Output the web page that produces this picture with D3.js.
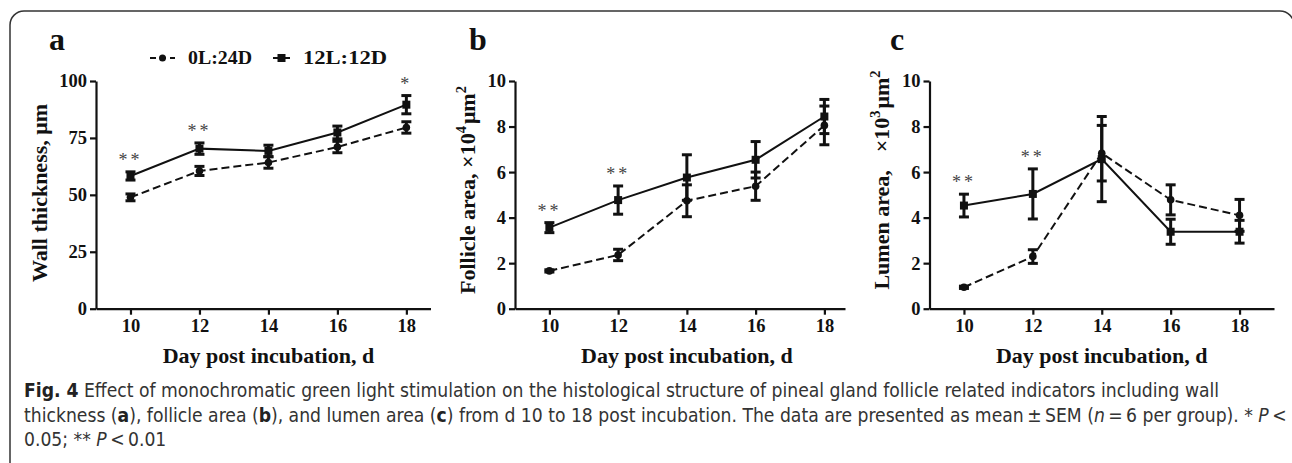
<!DOCTYPE html>
<html>
<head>
<meta charset="UTF-8">
<title>Fig. 4</title>
<script src="https://d3js.org/d3.v7.min.js"></script>
<style>
    body { margin: 0; background: #fff; }
    .axis path, .axis line { stroke: #111; stroke-width: 2.2; }
    .axis text { font-family: "Liberation Serif", "Times New Roman", serif; font-weight: bold; font-size: 18.5px; fill: #111; }
    .chartText { font-family: "Liberation Serif", "Times New Roman", serif; font-weight: bold; fill: #111; }
    .caption { font-family: "Liberation Sans Narrow", "DejaVu Sans Condensed", "Open Sans", sans-serif; font-size: 20px; fill: #333; }
</style>
</head>
<body>
<svg id="fig" width="1292" height="463"></svg>
<script>
    // --- data
    const days = [10, 12, 14, 16, 18];
    const xTicks = [10, 12, 14, 16, 18];

    // a: wall thickness, um
    const wallDark = [48.9, 60.5, 64.2, 71.0, 79.6];
    const wallDarkSem = [1.5, 2.0, 2.5, 2.5, 2.5];
    const wallLight = [58.3, 70.3, 69.3, 77.4, 89.6];
    const wallLightSem = [1.8, 2.5, 2.5, 2.8, 4.0];
    const wallTicks = [0, 25, 50, 75, 100];
    const wallStars = ["**", "**", "", "", "*"];

    // b: follicle area, x10^4 um^2
    const follDark = [1.66, 2.36, 4.74, 5.38, 8.05];
    const follDarkSem = [0.05, 0.25, 0.7, 0.62, 0.85];
    const follLight = [3.56, 4.77, 5.76, 6.54, 8.44];
    const follLightSem = [0.22, 0.62, 1.0, 0.8, 0.75];
    const areaTicks = [0, 2, 4, 6, 8, 10];
    const follStars = ["**", "**", "", "", ""];

    // c: lumen area, x10^3 um^2
    const lumDark = [0.94, 2.29, 6.83, 4.78, 4.1];
    const lumDarkSem = [0.05, 0.3, 1.22, 0.66, 0.7];
    const lumLight = [4.53, 5.04, 6.57, 3.38, 3.38];
    const lumLightSem = [0.5, 1.1, 1.87, 0.55, 0.5];
    const lumStars = ["**", "**", "", "", ""];

    const seriesNames = ["0L:24D", "12L:12D"];

    const captionLines = [
        [["Fig. 4", "b"], [" Effect of monochromatic green light stimulation on the histological structure of pineal gland follicle related indicators including wall", ""]],
        [["thickness (", ""], ["a", "b"], ["), follicle area (", ""], ["b", "b"], ["), and lumen area (", ""], ["c", "b"],
         [") from d 10 to 18 post incubation. The data are presented as mean\u2009\u00b1\u2009SEM (", ""], ["n", "i"], ["\u2009=\u20096 per group). * ", ""], ["P", "i"], ["\u2009<", ""]],
        [["0.05; ** ", ""], ["P", "i"], ["\u2009<\u20090.01", ""]]
    ];

    const svg = d3.select("svg#fig");

    // frame
    svg.append("rect")
        .attr("x", 10).attr("y", 11)
        .attr("width", 1284).attr("height", 470)
        .attr("rx", 14)
        .attr("fill", "none").attr("stroke", "#333").attr("stroke-width", 1.5);

    const panels = [
        { letter: "a", lx: 49, x0: 96, x1: 430.5, xMax: 18.7, yMax: 100, ticks: wallTicks,
          dark: wallDark, darkSem: wallDarkSem, light: wallLight, lightSem: wallLightSem, stars: wallStars,
          titleX: 47, titleY: 193, title: [["Wall thickness, \u03bcm", 0]] },
        { letter: "b", lx: 469, x0: 515, x1: 845, xMax: 18.6, yMax: 10, ticks: areaTicks,
          dark: follDark, darkSem: follDarkSem, light: follLight, lightSem: follLightSem, stars: follStars,
          titleX: 475, titleY: 190, title: [["Follicle area, \u00d710", 0], ["4", 1], ["\u03bcm", 2], ["2", 1]] },
        { letter: "c", lx: 890, x0: 929.5, x1: 1274, xMax: 19, yMax: 10, ticks: areaTicks,
          dark: lumDark, darkSem: lumDarkSem, light: lumLight, lightSem: lumLightSem, stars: lumStars,
          titleX: 889, titleY: 180, title: [["Lumen area,", 0], ["\u00d710", 3], ["3", 1], ["\u03bcm", 2], ["2", 1]] }
    ];

    const yTop = 81, yBottom = 308.7;

    panels.forEach(p => {
        const x = d3.scaleLinear().domain([9, p.xMax]).range([p.x0, p.x1]);
        const y = d3.scaleLinear().domain([0, p.yMax]).range([yBottom, yTop]);
        const g = svg.append("g");

        g.append("g").attr("class", "axis")
            .attr("transform", `translate(0,${yBottom})`)
            .call(d3.axisBottom(x).tickValues(xTicks).tickSize(6).tickSizeOuter(0).tickPadding(4));
        g.append("g").attr("class", "axis")
            .attr("transform", `translate(${p.x0},0)`)
            .call(d3.axisLeft(y).tickValues(p.ticks).tickSize(6).tickSizeOuter(0).tickPadding(3));

        // panel letter
        g.append("text").attr("class", "chartText")
            .attr("x", p.lx).attr("y", 50)
            .style("font-size", "32px")
            .text(p.letter);

        // x title
        g.append("text").attr("class", "chartText")
            .attr("x", x(14)).attr("y", 363)
            .attr("text-anchor", "middle")
            .style("font-size", "22px")
            .text("Day post incubation, d");

        // y title
        const yt = g.append("text").attr("class", "chartText")
            .attr("transform", `translate(${p.titleX},${p.titleY}) rotate(-90)`)
            .attr("text-anchor", "middle")
            .style("font-size", "22px");
        let shifted = false;
        p.title.forEach(([t, kind]) => {
            const ts = yt.append("tspan").text(t);
            if (kind === 1) {
                ts.attr("dy", shifted ? 0 : -9).style("font-size", "14.5px");
                shifted = true;
            } else {
                if (shifted) ts.attr("dy", 9);
                shifted = false;
                if (kind === 3) ts.attr("dx", 18);
                if (kind === 2) ts.attr("dx", 2);
            }
        });

        // series
        const rows = days.map((d, i) => ({
            day: d, dark: p.dark[i], darkSem: p.darkSem[i],
            light: p.light[i], lightSem: p.lightSem[i], star: p.stars[i]
        }));

        const drawSeries = (key, semKey, dashed, square) => {
            const line = d3.line().x(d => x(d.day)).y(d => y(d[key]));
            g.append("path").datum(rows)
                .attr("d", line)
                .attr("fill", "none").attr("stroke", "#111").attr("stroke-width", 2)
                .attr("stroke-dasharray", dashed ? "8,4" : null);

            const eb = g.append("g").selectAll("g").data(rows).join("g");
            eb.append("line")
                .attr("x1", d => x(d.day)).attr("x2", d => x(d.day))
                .attr("y1", d => y(d[key] - d[semKey])).attr("y2", d => y(d[key] + d[semKey]))
                .attr("stroke", "#111").attr("stroke-width", 3);
            [-1, 1].forEach(s => {
                eb.append("line")
                    .attr("x1", d => x(d.day) - 5).attr("x2", d => x(d.day) + 5)
                    .attr("y1", d => y(d[key] + s * d[semKey])).attr("y2", d => y(d[key] + s * d[semKey]))
                    .attr("stroke", "#111").attr("stroke-width", 3);
            });

            if (square) {
                g.append("g").selectAll("rect").data(rows).join("rect")
                    .attr("x", d => x(d.day) - 4).attr("y", d => y(d[key]) - 4)
                    .attr("width", 8).attr("height", 8).attr("fill", "#111");
            } else {
                g.append("g").selectAll("circle").data(rows).join("circle")
                    .attr("cx", d => x(d.day)).attr("cy", d => y(d[key]))
                    .attr("r", 3.8).attr("fill", "#111");
            }
        };
        drawSeries("dark", "darkSem", true, false);
        drawSeries("light", "lightSem", false, true);

        // significance marks
        g.append("g").selectAll("text").data(rows.filter(d => d.star)).join("text")
            .attr("x", d => x(d.day)).attr("y", d => y(d.light + d.lightSem) - 6)
            .attr("text-anchor", "middle")
            .style("font-family", "Liberation Serif, serif")
            .style("font-size", "18px").style("letter-spacing", "3px")
            .attr("fill", "#444")
            .text(d => d.star);
    });

    // legend
    const legend = svg.append("g");
    const legendItems = [
        { name: seriesNames[0], x0: 150, x1: 175, tx: 188, w: 64, dashed: true },
        { name: seriesNames[1], x0: 273, x1: 290, tx: 303, w: 84, dashed: false }
    ];
    legendItems.forEach(it => {
        legend.append("line")
            .attr("x1", it.x0).attr("x2", it.x1).attr("y1", 58).attr("y2", 58)
            .attr("stroke", "#111").attr("stroke-width", 2)
            .attr("stroke-dasharray", it.dashed ? "6,4" : null);
        if (it.dashed) {
            legend.append("circle").attr("cx", (it.x0 + it.x1) / 2).attr("cy", 58).attr("r", 3.5).attr("fill", "#111");
        } else {
            legend.append("rect").attr("x", (it.x0 + it.x1) / 2 - 4).attr("y", 54).attr("width", 8).attr("height", 8).attr("fill", "#111");
        }
        legend.append("text").attr("class", "chartText")
            .attr("x", it.tx).attr("y", 64)
            .style("font-size", "18px")
            .attr("textLength", it.w).attr("lengthAdjust", "spacingAndGlyphs")
            .text(it.name);
    });

    // caption: size the font so the first line spans the width it has in the figure
    const capBase = [397, 421.5, 446];
    const capLine1Width = 1196;
    const capNodes = captionLines.map((segs, i) => {
        const t = svg.append("text").attr("class", "caption")
            .attr("x", 24).attr("y", capBase[i]);
        segs.forEach(([s, st]) => {
            const ts = t.append("tspan").text(s);
            if (st === "b") ts.style("font-weight", "bold").style("fill", "#222");
            if (st === "i") ts.style("font-style", "italic");
        });
        return t;
    });
    const natural = capNodes[0].node().getComputedTextLength();
    const capSize = 20 * capLine1Width / natural;
    capNodes.forEach(t => t.style("font-size", capSize + "px"));
</script>
</body>
</html>
